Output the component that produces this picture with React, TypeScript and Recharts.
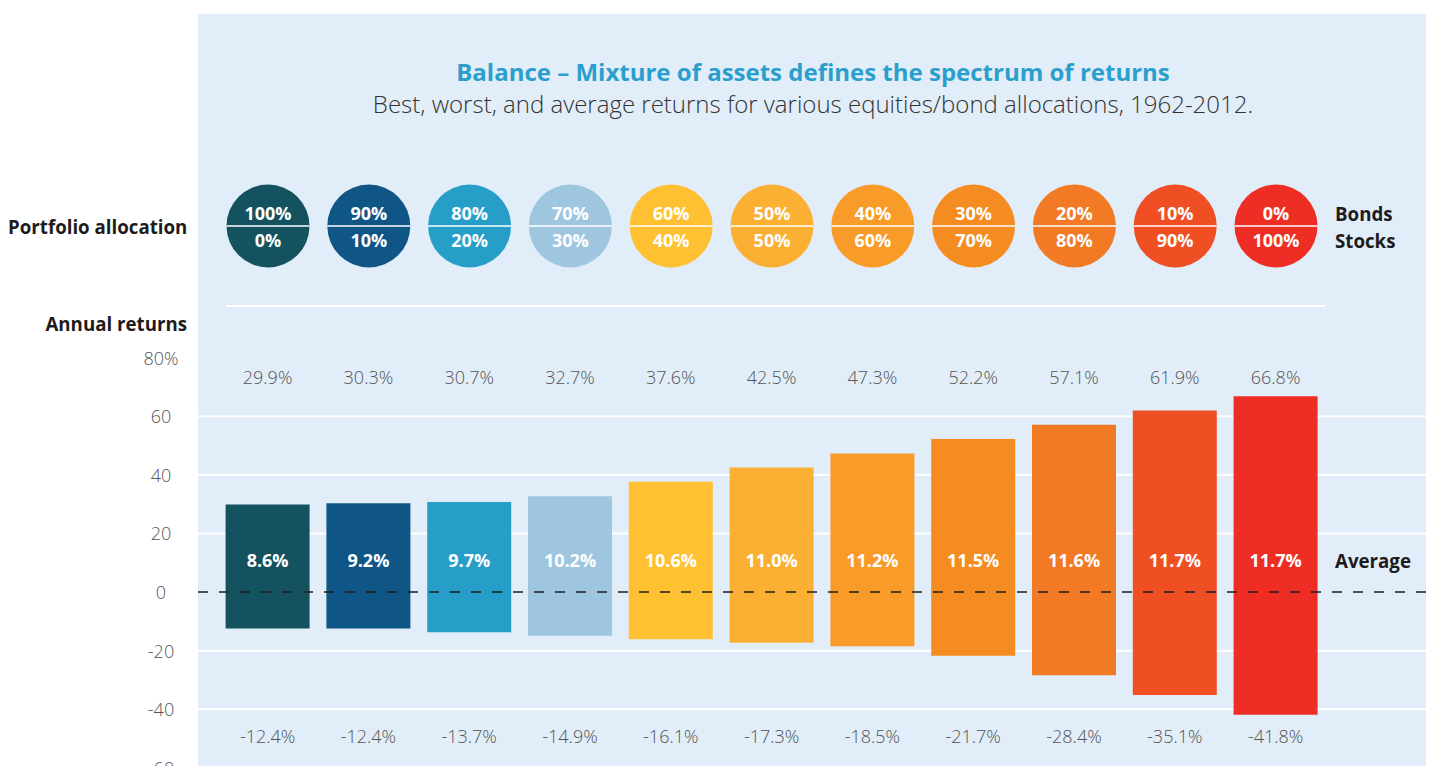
import { Bar, CartesianGrid, Cell, ComposedChart, LabelList, ReferenceLine, XAxis, YAxis } from "recharts"

// allocations: bonds share on top, stocks share below
const bonds = ["100%", "90%", "80%", "70%", "60%", "50%", "40%", "30%", "20%", "10%", "0%"]
const stocks = ["0%", "10%", "20%", "30%", "40%", "50%", "60%", "70%", "80%", "90%", "100%"]

const bestReturns = [29.9, 30.3, 30.7, 32.7, 37.6, 42.5, 47.3, 52.2, 57.1, 61.9, 66.8]
const worstReturns = [-12.4, -12.4, -13.7, -14.9, -16.1, -17.3, -18.5, -21.7, -28.4, -35.1, -41.8]
const avgReturns = [8.6, 9.2, 9.7, 10.2, 10.6, 11.0, 11.2, 11.5, 11.6, 11.7, 11.7]

const yTicks = [-60, -40, -20, 0, 20, 40, 60, 80]
const gridValues = [-40, -20, 20, 40, 60]

const colors = [
  "#13525E", "#0F5586", "#279EC8", "#9EC6DF", "#FFC132", "#FBB034",
  "#F89B29", "#F58C22", "#F37A24", "#F04F24", "#EE2E24",
]

const data = bonds.map((b, i) => ({
  name: `${b}/${stocks[i]}`,
  bonds: b,
  stocks: stocks[i],
  range: [worstReturns[i], bestReturns[i]],
  best: bestReturns[i],
  worst: worstReturns[i],
  avg: avgReturns[i],
}))

const FONT = "'Open Sans', sans-serif"
const DARK = "#1E1B1C"
const PANEL_LEFT = 198
const PANEL_RIGHT = 1434

const AllocationTick = (props: any) => {
  const { x, index } = props
  const cy = 226
  const r = 41.5
  return (
    <g>
      <circle cx={x} cy={cy} r={r} fill={colors[index]} />
      <line x1={x - r} x2={x + r} y1={cy} y2={cy} stroke="#fff" strokeWidth={1.5} />
      <text x={x} y={213} textAnchor="middle" dominantBaseline="central" fill="#fff" fontSize={18} fontWeight={700} fontFamily={FONT}>
        {data[index].bonds}
      </text>
      <text x={x} y={240} textAnchor="middle" dominantBaseline="central" fill="#fff" fontSize={18} fontWeight={700} fontFamily={FONT}>
        {data[index].stocks}
      </text>
    </g>
  )
}

const ReturnTick = (props: any) => {
  const { y, payload } = props
  return (
    <text x={161} y={y} textAnchor="middle" dominantBaseline="central" fill="#555" fontSize={18} fontWeight={300} fontFamily={FONT}>
      {payload.value === 80 ? "80%" : payload.value}
    </text>
  )
}

const rowLabel = (rowY: number, color: string, weight: number) => (props: any) => {
  const { x, width, value } = props
  return (
    <text x={x + width / 2} y={rowY} textAnchor="middle" dominantBaseline="central" fill={color} fontSize={18} fontWeight={weight} fontFamily={FONT}>
      {`${Number(value).toFixed(1)}%`}
    </text>
  )
}

const gridLine = (props: any) => (
  <line key={props.key} x1={PANEL_LEFT} x2={PANEL_RIGHT} y1={props.y1} y2={props.y2} stroke="#fff" strokeWidth={2} />
)

const App = () => {
  return (
    <div style={{ position: "relative", width: 1434, height: 774, margin: -8, fontFamily: FONT, overflow: "hidden" }}>
      <div style={{ position: "absolute", left: PANEL_LEFT, top: 14, width: PANEL_RIGHT - PANEL_LEFT, height: 760, background: "#E1EDF8" }} />
      <svg width={1434} height={774} style={{ position: "absolute", left: 0, top: 0 }}>
        <text x={813} y={71} textAnchor="middle" dominantBaseline="central" fill="#2A9FCD" fontSize={24} fontWeight={700} fontFamily={FONT}>
          Balance – Mixture of assets defines the spectrum of returns
        </text>
        <text x={813} y={103} textAnchor="middle" dominantBaseline="central" fill="#333" fontSize={24} fontWeight={300} fontFamily={FONT}>
          Best, worst, and average returns for various equities/bond allocations, 1962-2012.
        </text>
        <text x={8} y={226} dominantBaseline="central" fill={DARK} fontSize={18.7} fontWeight={700} fontFamily={FONT}>
          Portfolio allocation
        </text>
        <text x={187} y={323} textAnchor="end" dominantBaseline="central" fill={DARK} fontSize={18.7} fontWeight={700} fontFamily={FONT}>
          Annual returns
        </text>
        <text x={1335} y={213} dominantBaseline="central" fill={DARK} fontSize={18.7} fontWeight={700} fontFamily={FONT}>
          Bonds
        </text>
        <text x={1335} y={240} dominantBaseline="central" fill={DARK} fontSize={18.7} fontWeight={700} fontFamily={FONT}>
          Stocks
        </text>
        <text x={1335} y={560} dominantBaseline="central" fill={DARK} fontSize={18.7} fontWeight={700} fontFamily={FONT}>
          Average
        </text>
        <line x1={226} x2={1325} y1={306} y2={306} stroke="#fff" strokeWidth={2} />
      </svg>
      <div style={{ position: "absolute", left: 0, top: 0 }}>
        <ComposedChart width={1434} height={774} data={data} margin={{ top: 327.5, right: 107.6, bottom: 6, left: 157.6 }}>
          <CartesianGrid vertical={false} horizontalValues={gridValues} horizontal={gridLine} />
          <XAxis dataKey="name" orientation="top" height={30} axisLine={false} tickLine={false} interval={0} tick={<AllocationTick />} />
          <YAxis type="number" domain={[-60, 80]} ticks={yTicks} interval={0} width={60} axisLine={false} tickLine={false} tick={<ReturnTick />} />
          <Bar dataKey="range" barSize={84} isAnimationActive={false}>
            {data.map((d, i) => (
              <Cell key={d.name} fill={colors[i]} />
            ))}
            <LabelList dataKey="best" content={rowLabel(376.5, "#555", 300)} />
            <LabelList dataKey="worst" content={rowLabel(735.5, "#555", 300)} />
            <LabelList dataKey="avg" content={rowLabel(560, "#fff", 700)} />
          </Bar>
          <ReferenceLine
            y={0}
            ifOverflow="visible"
            shape={(p: any) => (
              <line x1={PANEL_LEFT} x2={PANEL_RIGHT} y1={p.y1} y2={p.y2} stroke="#1E1E1E" strokeWidth={1.4} strokeDasharray="10 11" />
            )}
          />
        </ComposedChart>
      </div>
    </div>
  )
}

export default App
